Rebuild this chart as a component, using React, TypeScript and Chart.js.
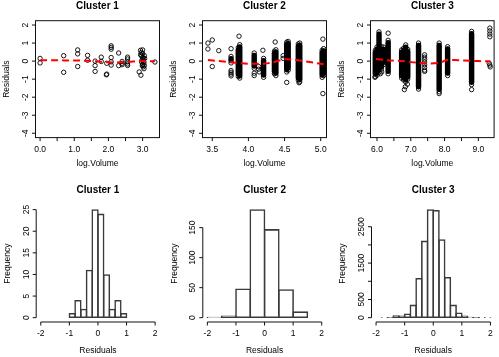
import React, { useEffect, useRef } from "react";
import { Chart, registerables } from "chart.js";
Chart.register(...registerables);

const W = 499;
const H = 357;
const FONT = '"Liberation Sans", Arial, Helvetica, sans-serif';

// ---------- Cluster 1 residual scatter ----------
const c1Points: [number, number][] = [
  [0.0, 0.15], [0.0, -0.1], [0.69, 0.3], [0.69, -0.62],
  [1.1, 0.62], [1.1, 0.4], [1.1, -0.3], [1.39, 0.32], [1.39, 0.05],
  [1.61, 0.0], [1.61, -0.25], [1.61, -0.57], [1.79, 0.22], [1.79, -0.02],
  [1.95, -0.12], [1.95, -0.72], [1.94, -0.76],
  [2.08, 0.85], [2.08, 0.76], [2.08, 0.66], [2.08, 0.2], [2.08, -0.04], [2.08, -0.22],
  [2.3, 0.45], [2.3, -0.25], [2.4, -0.02], [2.4, -0.12], [2.4, -0.2],
  [2.56, 0.22], [2.56, 0.12], [2.56, -0.04], [2.56, -0.16], [2.56, -0.24],
  [2.94, 0.6], [2.96, 0.48], [2.94, 0.35], [3.0, 0.62], [2.97, 0.3], [3.0, 0.2],
  [3.02, 0.12], [2.98, 0.05], [3.03, 0.0], [2.97, -0.05], [3.04, -0.1], [3.0, -0.18],
  [3.05, -0.25], [3.02, -0.32], [3.04, -0.42], [2.9, -0.6], [2.95, -0.78],
  [3.0, 0.42], [3.05, 0.3], [3.06, 0.15], [2.99, -0.25], [3.36, -0.05],
];
const c1FitX = [0, 0.7, 1.1, 1.4, 1.6, 1.8, 2.0, 2.2, 2.4, 2.6, 2.8, 3.0, 3.36];
const c1FitY = [0.05, 0.04, 0.03, 0.02, 0.0, -0.04, -0.07, -0.08, -0.07, -0.04, -0.01, 0.0, -0.01];

// ---------- Cluster 2 residual scatter ----------
const c2Points: [number, number][] = [
  [3.44, 1.0], [3.44, 0.67], [3.5, 1.17], [3.5, -0.3], [3.59, 0.58],
  [3.76, 0.69], [3.76, -0.52], [3.76, -0.62], [3.76, -0.72], [3.76, -0.82],
  [3.87, 1.38], [4.08, -0.67], [4.08, -0.8], [4.14, -0.3], [4.14, -0.45], [4.15, -0.6],
  [4.2, 0.6], [4.37, 1.06], [4.48, 0.3], [4.48, 0.15], [4.53, -1.18], [4.7, -1.2],
  [5.03, 1.22], [5.03, -1.8],
];
// dense columns of overlapping points: x, lowest, highest residual
const c2ColX = [3.76, 3.86, 3.88, 4.08, 4.21, 4.36, 4.38, 4.53, 4.55, 4.69, 4.71, 5.02, 5.04];
const c2ColLo = [-0.1, -0.85, -0.94, -0.4, -0.9, -0.7, -0.8, -0.6, -0.5, -1.05, -1.15, -0.9, -0.8];
const c2ColHi = [0.26, 0.75, 0.91, 0.45, 0.15, 0.55, 0.63, 1.05, 1.09, 0.95, 1.0, 0.6, 0.69];
const c2FitX = [3.44, 3.76, 3.9, 4.07, 4.2, 4.37, 4.52, 4.68, 4.85, 5.04];
const c2FitY = [0.06, -0.06, -0.12, -0.15, -0.15, -0.03, 0.1, 0.05, -0.05, -0.18];

// ---------- Cluster 3 residual scatter ----------
const c3Points: [number, number][] = [
  [5.94, -0.9], [6.1, -0.7], [6.14, -0.6], [6.33, 1.55],
  [6.84, -1.42], [6.81, -1.58], [6.9, -1.28],
  [7.41, 0.35], [7.41, 0.22], [7.41, 0.1], [7.41, -0.05], [7.41, -0.2], [7.41, -0.35], [7.41, -0.5], [7.41, -0.57],
  [7.84, -1.8], [8.8, -1.58],
  [9.34, 1.83], [9.34, 1.67], [9.34, 1.5], [9.34, 1.35], [9.32, -0.12], [9.34, -0.22], [9.35, -0.32],
];
const c3ColX = [5.95, 6.0, 6.06, 6.13, 6.19, 6.33, 6.73, 6.79, 6.85, 6.91, 7.23, 7.84, 8.09, 8.8];
const c3ColLo = [-0.85, -0.78, -0.62, -0.45, -0.2, -0.7, -0.95, -1.05, -1.15, -1.0, -1.55, -1.7, -0.8, -1.3];
const c3ColHi = [0.6, 0.78, 1.62, 0.8, 0.78, 1.15, 0.62, 0.72, 0.9, 0.65, 1.0, 1.0, 0.8, 1.65];
const c3FitX = [5.97, 6.3, 6.75, 7.15, 7.5, 7.84, 8.1, 8.3, 8.6, 9.0, 9.36];
const c3FitY = [0.12, 0.05, 0.0, -0.08, -0.13, -0.1, 0.08, 0.06, 0.03, 0.0, -0.02];

// ---------- Histograms of residuals ----------
const h1Width = 0.2;
const h1Mids = [-0.9, -0.7, -0.5, -0.3, -0.1, 0.1, 0.3, 0.5, 0.7, 0.9];
const h1Counts = [1, 4, 2, 11, 25, 24, 10, 2, 4, 1];
const h2Width = 0.5;
const h2Mids = [-1.75, -1.25, -0.75, -0.25, 0.25, 0.75, 1.25];
const h2Counts = [1, 3, 48, 180, 147, 47, 10];
const h3Width = 0.2;
const h3Mids = [-1.7, -1.5, -1.3, -1.1, -0.9, -0.7, -0.5, -0.3, -0.1, 0.1, 0.3, 0.5, 0.7, 0.9, 1.1, 1.3, 1.5, 1.7, 1.9];
const h3Counts = [5, 12, 55, 50, 105, 350, 1080, 2110, 2970, 2950, 2150, 1110, 350, 135, 50, 15, 8, 6, 4];

// ---------- tick labels ----------
const resTicks = [-4, -3, -2, -1, 0, 1, 2];
const resLabels = ["-4", "-3", "-2", "-1", "0", "1", "2"];
const p1XTicks = [0, 0.5, 1, 1.5, 2, 2.5, 3];
const p1XLabVals = [0, 1, 2, 3];
const p1XLabels = ["0.0", "1.0", "2.0", "3.0"];
const p2XTicks = [3.5, 4, 4.5, 5];
const p2XLabels = ["3.5", "4.0", "4.5", "5.0"];
const p3XTicks = [6, 6.5, 7, 7.5, 8, 8.5, 9];
const p3XLabVals = [6, 7, 8, 9];
const p3XLabels = ["6.0", "7.0", "8.0", "9.0"];
const hXTicks = [-2, -1, 0, 1, 2];
const hXLabels = ["-2", "-1", "0", "1", "2"];
const h1YTicks = [0, 5, 10, 15, 20, 25];
const h1YLabels = ["0", "5", "10", "15", "20", "25"];
const h2YTicks = [0, 50, 100, 150];
const h2YLabels = ["0", "50", "100", "150"];
const h3YTicks = [0, 500, 1000, 1500, 2000, 2500];
const h3YLabVals = [0, 500, 1500, 2500];
const h3YLabels = ["0", "500", "1500", "2500"];

type Spec = {
  kind: "scatter" | "hist";
  title: string;
  xTitle: string;
  yTitle: string;
  box: { l: number; t: number; r: number; b: number };
  xMin: number;
  xMax: number;
  yMin: number;
  yMax: number;
  xTicks: number[];
  xLabVals: number[];
  xLabels: string[];
  yTicks: number[];
  yLabVals: number[];
  yLabels: string[];
  datasets: any[];
};

const TL = 3.5;

function axesPlugin(p: Spec) {
  return {
    id: "rAxes",
    afterDraw(chart: any) {
      const { ctx, chartArea: a } = chart;
      const xs = chart.scales.x;
      const ys = chart.scales.y;
      ctx.save();
      ctx.strokeStyle = "#111";
      ctx.fillStyle = "#000";
      ctx.lineWidth = 1;
      if (p.kind === "scatter") {
        ctx.strokeRect(a.left, a.top, a.right - a.left, a.bottom - a.top);
      }
      const axLine = a.bottom;
      const ayLine = a.left;
      ctx.beginPath();
      if (p.kind === "hist") {
        ctx.moveTo(xs.getPixelForValue(p.xTicks[0]), axLine);
        ctx.lineTo(xs.getPixelForValue(p.xTicks[p.xTicks.length - 1]), axLine);
        ctx.moveTo(ayLine, ys.getPixelForValue(p.yTicks[0]));
        ctx.lineTo(ayLine, ys.getPixelForValue(p.yTicks[p.yTicks.length - 1]));
      }
      for (const v of p.xTicks) {
        const px = xs.getPixelForValue(v);
        ctx.moveTo(px, axLine);
        ctx.lineTo(px, axLine + TL);
      }
      for (const v of p.yTicks) {
        const py = ys.getPixelForValue(v);
        ctx.moveTo(ayLine, py);
        ctx.lineTo(ayLine - TL, py);
      }
      ctx.stroke();

      ctx.font = `8.5px ${FONT}`;
      ctx.textAlign = "center";
      ctx.textBaseline = "middle";
      const xLabOff = p.kind === "scatter" ? 12.4 : 12;
      const xTitleOff = p.kind === "scatter" ? 26.5 : 29;
      p.xLabVals.forEach((v, i) => {
        ctx.fillText(p.xLabels[i], xs.getPixelForValue(v), axLine + xLabOff);
      });
      p.yLabVals.forEach((v, i) => {
        ctx.save();
        ctx.translate(ayLine - 10, ys.getPixelForValue(v));
        ctx.rotate(-Math.PI / 2);
        ctx.fillText(p.yLabels[i], 0, 0);
        ctx.restore();
      });
      ctx.fillText(p.xTitle, (a.left + a.right) / 2, axLine + xTitleOff);
      ctx.save();
      ctx.translate(ayLine - 28.5, (a.top + a.bottom) / 2);
      ctx.rotate(-Math.PI / 2);
      ctx.fillText(p.yTitle, 0, 0);
      ctx.restore();
      ctx.font = `bold 10px ${FONT}`;
      ctx.fillText(p.title, (a.left + a.right) / 2, a.top - 14.8);
      ctx.restore();
    },
  };
}

function scatterDatasets(
  pts: [number, number][],
  colX: number[],
  colLo: number[],
  colHi: number[],
  fitX: number[],
  fitY: number[]
) {
  const ends: { x: number; y: number }[] = [];
  colX.forEach((x, i) => {
    ends.push({ x, y: colLo[i] });
    ends.push({ x, y: colHi[i] });
  });
  return [
    {
      type: "line",
      data: fitX.map((x, i) => ({ x, y: fitY[i] })),
      borderColor: "#ff0000",
      borderWidth: 2,
      borderDash: [7, 4],
      pointRadius: 0,
      tension: 0.4,
      cubicInterpolationMode: "monotone",
      fill: false,
    },
    {
      type: "scatter",
      data: [...pts.map(([x, y]) => ({ x, y })), ...ends],
      pointStyle: "circle",
      pointRadius: 2.2,
      borderWidth: 0.9,
      borderColor: "#000",
      backgroundColor: "rgba(0,0,0,0)",
    },
    {
      type: "bar",
      data: colX.map((x, i) => ({ x, y: [colLo[i], colHi[i]] })),
      backgroundColor: "#000",
      borderWidth: 0,
      barThickness: 4.8,
      borderRadius: 2.4,
      borderSkipped: false,
      grouped: false,
    },
  ];
}

function histDataset(mids: number[], counts: number[], width: number, box: { l: number; r: number }) {
  const pxPerUnit = (box.r - box.l) / 4.32;
  return [
    {
      type: "bar",
      data: mids.map((x, i) => ({ x, y: counts[i] })),
      backgroundColor: "rgba(0,0,0,0)",
      borderColor: "#3a3a3a",
      borderWidth: 0.9,
      borderSkipped: false,
      barThickness: width * pxPerUnit + 0.9,
      grouped: false,
    },
  ];
}

const TOP = { t: 20.7, b: 137.6 };
const BOT = { t: 205.3, b: 322.0 };

const b1 = { l: 35.5, r: 159.5, ...TOP };
const b2 = { l: 202.5, r: 326.5, ...TOP };
const b3 = { l: 370.5, r: 494.5, ...TOP };
const b4 = { l: 36.2, r: 159.7, ...BOT };
const b5 = { l: 202.8, r: 326.3, ...BOT };
const b6 = { l: 371.5, r: 495.0, ...BOT };

const h1Max = Math.max(...h1Counts);
const h2Max = Math.max(...h2Counts);
const h3Max = Math.max(...h3Counts);

const specs: Spec[] = [
  {
    kind: "scatter", title: "Cluster 1", xTitle: "log.Volume", yTitle: "Residuals", box: b1,
    xMin: -0.134, xMax: 3.494, yMin: -4.24, yMax: 2.24,
    xTicks: p1XTicks, xLabVals: p1XLabVals, xLabels: p1XLabels,
    yTicks: resTicks, yLabVals: resTicks, yLabels: resLabels,
    datasets: scatterDatasets(c1Points, [], [], [], c1FitX, c1FitY),
  },
  {
    kind: "scatter", title: "Cluster 2", xTitle: "log.Volume", yTitle: "Residuals", box: b2,
    xMin: 3.365, xMax: 5.08, yMin: -4.24, yMax: 2.24,
    xTicks: p2XTicks, xLabVals: p2XTicks, xLabels: p2XLabels,
    yTicks: resTicks, yLabVals: resTicks, yLabels: resLabels,
    datasets: scatterDatasets(c2Points, c2ColX, c2ColLo, c2ColHi, c2FitX, c2FitY),
  },
  {
    kind: "scatter", title: "Cluster 3", xTitle: "log.Volume", yTitle: "Residuals", box: b3,
    xMin: 5.808, xMax: 9.466, yMin: -4.24, yMax: 2.24,
    xTicks: p3XTicks, xLabVals: p3XLabVals, xLabels: p3XLabels,
    yTicks: resTicks, yLabVals: resTicks, yLabels: resLabels,
    datasets: scatterDatasets(c3Points, c3ColX, c3ColLo, c3ColHi, c3FitX, c3FitY),
  },
  {
    kind: "hist", title: "Cluster 1", xTitle: "Residuals", yTitle: "Frequency", box: b4,
    xMin: -2.16, xMax: 2.16, yMin: -0.04 * h1Max, yMax: 1.04 * h1Max,
    xTicks: hXTicks, xLabVals: hXTicks, xLabels: hXLabels,
    yTicks: h1YTicks, yLabVals: h1YTicks, yLabels: h1YLabels,
    datasets: histDataset(h1Mids, h1Counts, h1Width, b4),
  },
  {
    kind: "hist", title: "Cluster 2", xTitle: "Residuals", yTitle: "Frequency", box: b5,
    xMin: -2.16, xMax: 2.16, yMin: -0.04 * h2Max, yMax: 1.04 * h2Max,
    xTicks: hXTicks, xLabVals: hXTicks, xLabels: hXLabels,
    yTicks: h2YTicks, yLabVals: h2YTicks, yLabels: h2YLabels,
    datasets: histDataset(h2Mids, h2Counts, h2Width, b5),
  },
  {
    kind: "hist", title: "Cluster 3", xTitle: "Residuals", yTitle: "Frequency", box: b6,
    xMin: -2.16, xMax: 2.16, yMin: -0.04 * h3Max, yMax: 1.04 * h3Max,
    xTicks: hXTicks, xLabVals: hXTicks, xLabels: hXLabels,
    yTicks: h3YTicks, yLabVals: h3YLabVals, yLabels: h3YLabels,
    datasets: histDataset(h3Mids, h3Counts, h3Width, b6),
  },
];

function Panel({ spec }: { spec: Spec }) {
  const ref = useRef<HTMLCanvasElement>(null);
  useEffect(() => {
    const { box } = spec;
    const chart = new Chart(ref.current as HTMLCanvasElement, {
      type: "scatter",
      data: { datasets: spec.datasets },
      options: {
        animation: false,
        responsive: false,
        devicePixelRatio: 1,
        events: [],
        layout: { padding: { left: box.l, top: box.t, right: W - box.r, bottom: H - box.b } },
        plugins: { legend: { display: false }, tooltip: { enabled: false }, title: { display: false } },
        scales: {
          x: { type: "linear", display: false, min: spec.xMin, max: spec.xMax, offset: false, grid: { offset: false } },
          y: { type: "linear", display: false, min: spec.yMin, max: spec.yMax },
        },
      } as any,
      plugins: [axesPlugin(spec)],
    } as any);
    return () => chart.destroy();
  }, [spec]);
  return (
    <canvas
      ref={ref}
      width={W}
      height={H}
      style={{ position: "absolute", left: 0, top: 0, width: W, height: H }}
    />
  );
}

export default function App() {
  return (
    <div style={{ position: "absolute", left: 0, top: 0, width: W, height: H, background: "#fff" }}>
      {specs.map((s, i) => (
        <Panel key={i} spec={s} />
      ))}
    </div>
  );
}
